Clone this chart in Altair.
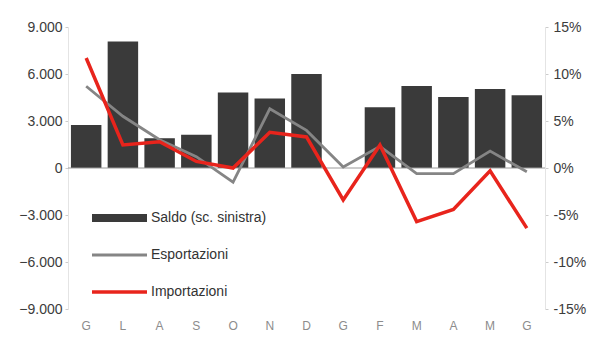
import altair as alt
import pandas as pd

mesi = ["G", "L", "A", "S", "O", "N", "D", "G", "F", "M", "A", "M", "G"]
saldo = [2750, 8080, 1900, 2120, 4820, 4440, 6000, 0, 3870, 5230, 4530, 5040, 4640]
esportazioni = [8.7, 5.5, 3.0, 1.2, -1.5, 6.3, 4.0, 0.1, 2.3, -0.6, -0.6, 1.8, -0.4]
importazioni = [11.7, 2.45, 2.8, 0.7, 0.0, 3.8, 3.3, -3.4, 2.45, -5.7, -4.4, -0.3, -6.4]

serie = ["Saldo (sc. sinistra)", "Esportazioni", "Importazioni"]
colori = ["#3a3a3a", "#858585", "#e8241c"]
spessori = [8, 2.8, 3.5]

idx = list(range(len(mesi)))
bars_df = pd.DataFrame({"idx": idx, "saldo": saldo})
lines_df = pd.concat([
    pd.DataFrame({"idx": idx, "val": esportazioni, "serie": serie[1]}),
    pd.DataFrame({"idx": idx, "val": importazioni, "serie": serie[2]}),
])

FONT = "Liberation Sans, Arial, sans-serif"
label_expr = "[" + ",".join("'%s'" % m for m in mesi) + "][datum.value]"

x_enc = alt.X(
    "idx:O",
    title=None,
    scale=alt.Scale(paddingInner=0.17, paddingOuter=0.08),
    axis=alt.Axis(labelExpr=label_expr, labelAngle=0, domain=False, ticks=False,
                  labelColor="#8c8c8c", labelFont=FONT, labelFontSize=12,
                  labelPadding=11),
)

bars = alt.Chart(bars_df).mark_bar(color="#3a3a3a").encode(
    x=x_enc,
    y=alt.Y("saldo:Q", title=None,
            scale=alt.Scale(domain=[-9000, 9000], nice=False),
            axis=alt.Axis(values=[-9000, -6000, -3000, 0, 3000, 6000, 9000],
                          labelExpr="replace(format(datum.value, ','), ',', '.')",
                          orient="left", grid=False, domainColor="#e4e4e4",
                          tickColor="#cccccc", tickSize=3, labelPadding=3,
                          labelColor="#3c3c3c", labelFont=FONT, labelFontSize=14,
                          labelFontWeight="normal")),
)

lines = alt.Chart(lines_df).mark_line().encode(
    x=x_enc,
    y=alt.Y("val:Q", title=None,
            scale=alt.Scale(domain=[-15, 15], nice=False),
            axis=alt.Axis(values=[-15, -10, -5, 0, 5, 10, 15],
                          labelExpr="datum.value + '%'",
                          orient="right", grid=False, domainColor="#e4e4e4",
                          tickColor="#cccccc", tickSize=3, labelPadding=5,
                          labelColor="#3c3c3c", labelFont=FONT, labelFontSize=14)),
    color=alt.Color("serie:N", title=None,
                    scale=alt.Scale(type="ordinal", domain=serie, range=colori),
                    legend=alt.Legend(orient="none", legendX=20, legendY=181,
                                      symbolType="M-1,0L4.5,0", symbolSize=400,
                                      labelFont=FONT, labelFontSize=14,
                                      labelColor="#333333", rowPadding=17,
                                      clipHeight=20, gridAlign="all",
                                      labelOffset=35, padding=0)),
    strokeWidth=alt.StrokeWidth("serie:N", title=None,
                                scale=alt.Scale(type="ordinal", domain=serie, range=spessori)),
    order=alt.Order("idx:O"),
)

zero = alt.Chart(pd.DataFrame({"z": [0]})).mark_rule(color="#9a9a9a", strokeWidth=1).encode(
    y=alt.Y("z:Q", scale=alt.Scale(domain=[-15, 15], nice=False), axis=None)
)

chart = alt.layer(bars, zero, lines).resolve_scale(y="independent").properties(
    width=477, height=282,
    padding={"left": 68, "top": 27, "right": 56, "bottom": 38},
    autosize=alt.AutoSizeParams(type="none"),
    background="#ffffff",
).configure_view(stroke=None)

chart.save("out.html", embed_options={"renderer": "svg", "actions": False})
